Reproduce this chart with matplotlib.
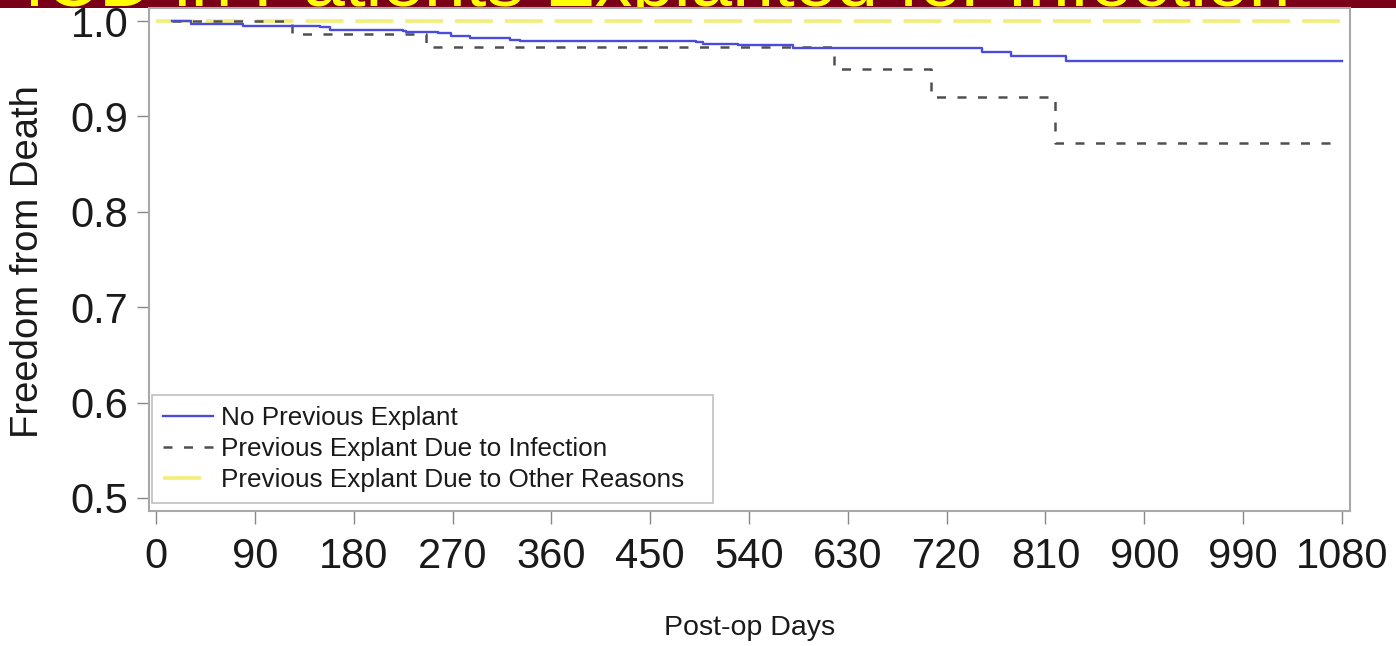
import matplotlib
matplotlib.use("Agg")
import matplotlib.pyplot as plt
from matplotlib.patches import Rectangle
from matplotlib.transforms import Bbox, TransformedBbox

# ---- data ----
days_none = [15, 32, 79, 92, 149, 158, 225, 228, 257, 269, 286, 322, 331, 492, 498, 530, 580, 752, 779, 829, 1080]
surv_none = [1.000, 0.997, 0.995, 0.9944, 0.9934, 0.991, 0.990, 0.989, 0.9874, 0.9846, 0.9825, 0.9804, 0.9793,
             0.9776, 0.9758, 0.9748, 0.9722, 0.9678, 0.9632, 0.958, 0.958]

days_inf = [15, 124, 246, 617, 706, 819, 1071]
surv_inf = [1.000, 0.9863, 0.973, 0.950, 0.9205, 0.8726, 0.8726]

days_other = [0, 1080]
surv_other = [1.0, 1.0]

labels = ["No Previous Explant", "Previous Explant Due to Infection", "Previous Explant Due to Other Reasons"]
xticks = list(range(0, 1081, 90))
yticks = [0.5, 0.6, 0.7, 0.8, 0.9, 1.0]
title_text = "S-ICD in Patients Explanted for Infection"

W, H = 1396, 646
fig = plt.figure(figsize=(W / 100, H / 100), dpi=100)
plt.rcParams['font.family'] = ['Liberation Sans', 'DejaVu Sans']

# banner
banner_h = 8
banner = Rectangle((0, 1 - banner_h / H), 1, banner_h / H, transform=fig.transFigure, facecolor='#7a0019',
                   edgecolor='none', zorder=0)
fig.patches.append(banner)
t = fig.text(1290 / W, 1 - 6 / H, title_text, color='#ffff00', fontsize=54, ha='right', va='baseline',
             family=['Liberation Sans', 'DejaVu Sans'], zorder=1)
t.set_clip_on(True)
t.set_clip_box(TransformedBbox(Bbox([[0, 1 - banner_h / H], [1, 1]]), fig.transFigure))

ax = fig.add_axes([149 / W, 1 - 511 / H, (1350 - 149) / W, (511 - 8) / H])
ax.set_zorder(2)

ax.plot(days_none, surv_none, drawstyle='steps-post', color='#4b4bdc', lw=1.7, label=labels[0], zorder=3)
ax.plot(days_inf, surv_inf, drawstyle='steps-post', color='#505050', lw=1.8,
        linestyle=(0, (3.6, 4.6)), label=labels[1], zorder=2)
ax.plot(days_other, surv_other, color='#f2ee78', lw=2.6, linestyle=(0, (10.5, 3.3)), label=labels[2], zorder=1)

ax.set_xlim(-6.4, 1087.3)
ax.set_ylim(0.4863, 1.0137)
ax.set_xticks(xticks)
ax.set_xticklabels([str(v) for v in xticks])
ax.set_yticks(yticks)
ax.set_yticklabels([f"{v:.1f}" for v in yticks])

ax.tick_params(axis='both', colors='#888888', labelcolor='#1a1a1a', labelsize=30, length=9, width=1)
ax.tick_params(axis='x', pad=10)
ax.tick_params(axis='y', pad=6)
for s in ax.spines.values():
    s.set_color('#a8a8a8')
    s.set_linewidth(1.5)

ax.set_ylabel("Freedom from Death", fontsize=27.5, color='#1a1a1a')
ax.yaxis.set_label_coords((28 - 149) / (1350 - 149), 0.495)
ax.yaxis.label.set_verticalalignment('center')
ax.set_xlabel("Post-op Days", fontsize=20.5, color='#1a1a1a')
ax.xaxis.set_label_coords(0.5, (511 - 628) / (511 - 8))
ax.xaxis.label.set_verticalalignment('center')

leg = ax.legend(loc='lower left', bbox_to_anchor=(3 / 1201, 8 / 503, (713 - 152) / 1201, 0.2),
                mode='expand', borderaxespad=0, fontsize=18.8,
                frameon=True, fancybox=False, edgecolor='#b0b0b0', handlelength=1.9, handletextpad=0.33,
                labelspacing=0.27, borderpad=0.42)
leg.get_frame().set_linewidth(1.2)
for txt in leg.get_texts():
    txt.set_color('#1a1a1a')

fig.savefig("out.png", dpi=100)
